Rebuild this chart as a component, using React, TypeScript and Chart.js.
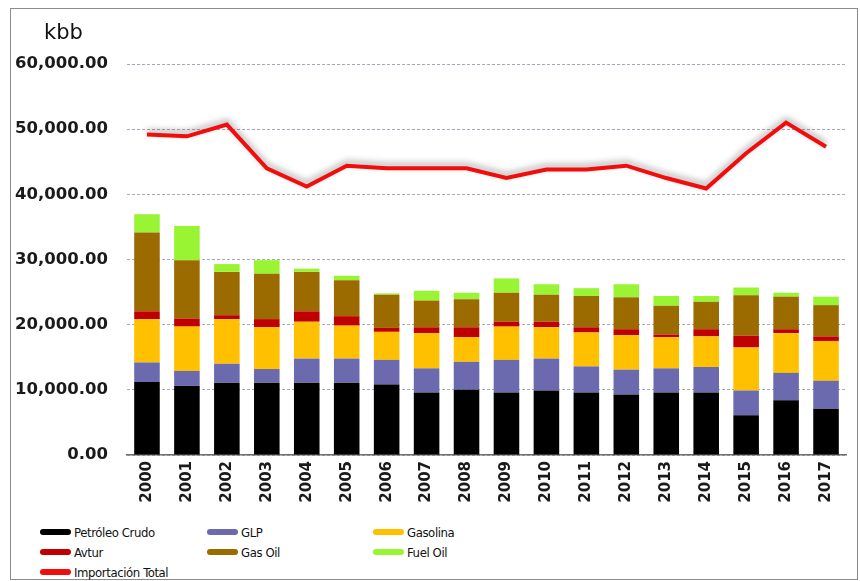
import React, { useEffect, useRef } from "react";
import { Chart, registerables } from "chart.js";

Chart.register(...registerables);

const years = ["2000","2001","2002","2003","2004","2005","2006","2007","2008","2009","2010","2011","2012","2013","2014","2015","2016","2017"];
const crudo = [11200,10600,11100,11100,11100,11100,10800,9600,10000,9600,9900,9600,9300,9600,9600,6100,8400,7100];
const glp = [3000,2300,2900,2100,3700,3700,3800,3700,4300,5000,4900,4000,3800,3700,3900,3800,4200,4300];
const gasolina = [6650,6800,6850,6400,5650,5050,4300,5400,3800,5100,4800,5200,5300,4800,4700,6600,6100,6100];
const avtur = [1200,1250,600,1250,1600,1450,600,900,1500,750,850,800,900,400,1100,1800,600,700];
const gasOil = [12100,8950,6650,6950,6050,5500,5100,4100,4300,4450,4150,4800,4900,4400,4200,6200,5000,4800];
const fuelOil = [2800,5250,1200,2100,500,700,200,1500,1000,2200,1600,1200,2000,1500,900,1200,600,1300];
const importacionTotal = [49200,48900,50700,44000,41200,44400,44000,44000,44000,42500,43800,43800,44400,42500,40900,46300,51000,47300];
const yTicks = [0,10000,20000,30000,40000,50000,60000];

const barSeries = [
  { label: "Petróleo Crudo", data: crudo, color: "#000000" },
  { label: "GLP", data: glp, color: "#6c6aae" },
  { label: "Gasolina", data: gasolina, color: "#ffc000" },
  { label: "Avtur", data: avtur, color: "#c00000" },
  { label: "Gas Oil", data: gasOil, color: "#9c6b00" },
  { label: "Fuel Oil", data: fuelOil, color: "#99f533" },
];
const lineColor = "#f20d0d";

const legendItems = [
  { label: "Petróleo Crudo", color: "#000000", col: 0, row: 0 },
  { label: "GLP", color: "#6c6aae", col: 1, row: 0 },
  { label: "Gasolina", color: "#ffc000", col: 2, row: 0 },
  { label: "Avtur", color: "#c00000", col: 0, row: 1 },
  { label: "Gas Oil", color: "#9c6b00", col: 1, row: 1 },
  { label: "Fuel Oil", color: "#99f533", col: 2, row: 1 },
  { label: "Importación Total", color: lineColor, col: 0, row: 2 },
];
const colX = [40, 207, 373];
const rowY = [532, 552, 572];

const shadowPlugin = {
  id: "lineShadow",
  beforeDatasetDraw(chart: any, args: any) {
    if (chart.data.datasets[args.index].type === "line") {
      const ctx = chart.ctx;
      ctx.save();
      ctx.shadowColor = "rgba(0,0,0,0.35)";
      ctx.shadowBlur = 6;
      ctx.shadowOffsetY = -3;
    }
  },
  afterDatasetDraw(chart: any, args: any) {
    if (chart.data.datasets[args.index].type === "line") {
      chart.ctx.restore();
    }
  },
};

export default function App() {
  const ref = useRef<HTMLCanvasElement | null>(null);
  useEffect(() => {
    document.body.style.margin = "0";
    document.body.style.background = "#ffffff";
    const canvas = ref.current!;
    const datasets: any[] = [
      {
        type: "line",
        label: "Importación Total",
        data: importacionTotal,
        borderColor: lineColor,
        backgroundColor: lineColor,
        borderWidth: 4,
        pointRadius: 0,
        tension: 0,
        order: 0,
      },
      ...barSeries.map((s) => ({
        type: "bar",
        label: s.label,
        data: s.data,
        backgroundColor: s.color,
        borderWidth: 0,
        barPercentage: 0.64,
        categoryPercentage: 1,
        order: 1,
      })),
    ];
    const chart = new Chart(canvas, {
      type: "bar",
      data: { labels: years, datasets },
      plugins: [shadowPlugin],
      options: {
        animation: false,
        responsive: false,
        maintainAspectRatio: false,
        layout: { padding: { left: 0, right: 14, top: 64, bottom: 0 } },
        plugins: { legend: { display: false }, tooltip: { enabled: false } },
        scales: {
          x: {
            stacked: true,
            grid: { display: false, drawTicks: false },
            border: { display: true, color: "#6e6e6e", width: 1.5 },
            ticks: {
              minRotation: 90,
              maxRotation: 90,
              padding: 6,
              color: "#1a1a1a",
              font: { family: "DejaVu Sans", size: 15, weight: "bold" },
            },
            afterFit: (scale: any) => { scale.height = 60; },
          },
          y: {
            stacked: true,
            min: 0,
            max: 60000,
            afterBuildTicks: (scale: any) => { scale.ticks = yTicks.map((v) => ({ value: v })); },
            grid: { color: "#a8a8b8", lineWidth: 1, drawTicks: false },
            border: { display: false, dash: [3, 2] },
            ticks: {
              padding: 19,
              color: "#1a1a1a",
              font: { family: "DejaVu Sans", size: 16.5, weight: "bold" },
              callback: (v: any) =>
                Number(v).toLocaleString("en-US", { minimumFractionDigits: 2, maximumFractionDigits: 2 }),
            },
            afterFit: (scale: any) => { scale.width = 127; },
          },
        },
      } as any,
    });
    return () => chart.destroy();
  }, []);

  return (
    <div style={{ position: "relative", width: 860, height: 581, background: "#fff", overflow: "hidden" }}>
      <div style={{ position: "absolute", left: 10, top: 8, width: 846, height: 570, border: "1px solid #8c8c8c" }} />
      <canvas ref={ref} width={860} height={515} style={{ position: "absolute", left: 0, top: 0, width: 860, height: 515 }} />
      <div style={{ position: "absolute", left: 44, top: 20, fontFamily: "DejaVu Sans", fontSize: 21, color: "#111" }}>kbb</div>
      {legendItems.map((it) => (
        <div
          key={it.label}
          style={{
            position: "absolute",
            left: colX[it.col],
            top: rowY[it.row] - 10,
            height: 20,
            display: "flex",
            alignItems: "center",
            fontFamily: "'Liberation Sans Narrow', 'DejaVu Sans Condensed', sans-serif",
            fontSize: 13,
            letterSpacing: -0.4,
            color: "#111",
            whiteSpace: "nowrap",
          }}
        >
          <span style={{ display: "inline-block", width: 31, height: 6, borderRadius: 3, background: it.color, marginRight: 3 }} />
          {it.label}
        </div>
      ))}
    </div>
  );
}
